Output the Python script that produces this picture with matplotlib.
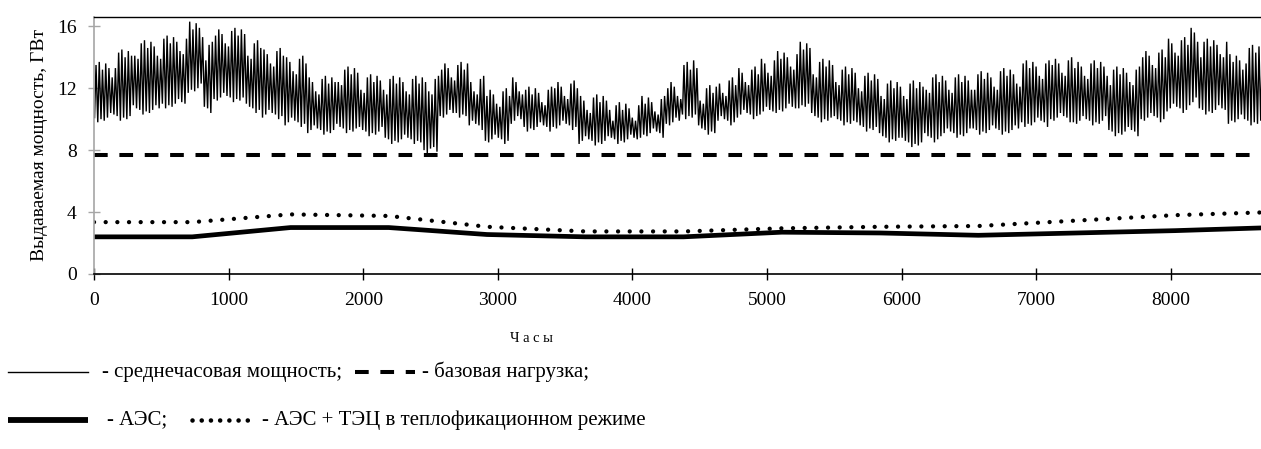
import numpy as np
import matplotlib
matplotlib.use("Agg")
import matplotlib.pyplot as plt
from matplotlib.lines import Line2D

plt.rcParams['font.family'] = ['Liberation Serif', 'DejaVu Serif']

# ---------------- data ----------------
# daily maximum of the hourly power, GW (one value per day)
daily_max = [
    13.5, 13.7, 13.2, 13.6, 13.3, 12.7, 13.3,
    14.3, 14.5, 14.0, 14.4, 14.1, 14.1, 13.9,
    14.9, 15.1, 14.6, 15.0, 14.7, 14.1, 13.9,
    15.2, 15.4, 14.9, 15.3, 15.0, 14.4, 14.2,
    15.2, 16.3, 15.8, 16.2, 15.9, 15.3, 13.8,
    14.8, 15.0, 15.4, 15.8, 15.5, 14.9, 14.7,
    15.7, 15.9, 15.4, 15.8, 15.5, 14.1, 13.9,
    14.9, 15.1, 14.6, 14.5, 14.2, 13.6, 13.4,
    14.4, 14.6, 14.1, 14.0, 13.7, 13.1, 12.9,
    13.9, 14.1, 13.6, 12.7, 12.4, 11.8, 11.6,
    12.6, 12.8, 12.3, 12.7, 12.4, 12.4, 12.2,
    13.2, 13.4, 12.9, 13.3, 13.0, 11.9, 11.7,
    12.7, 12.9, 12.4, 12.8, 12.5, 11.9, 11.6,
    12.6, 12.8, 12.3, 12.7, 12.4, 11.8, 11.6,
    12.6, 12.8, 12.3, 12.7, 12.4, 11.8, 11.6,
    12.6, 12.8, 13.2, 13.6, 13.3, 12.7, 12.5,
    13.5, 13.7, 13.2, 13.6, 12.4, 11.8, 11.6,
    12.6, 12.8, 11.5, 11.9, 11.6, 11.0, 10.8,
    11.8, 12.0, 11.5, 12.7, 12.4, 11.8, 11.6,
    11.9, 12.1, 11.6, 12.0, 11.7, 11.1, 10.9,
    11.9, 12.1, 12.0, 12.4, 12.1, 11.5, 11.3,
    12.3, 12.5, 12.0, 11.5, 11.2, 10.6, 10.4,
    11.4, 11.6, 11.1, 11.5, 11.2, 10.6, 9.9,
    10.9, 11.1, 10.6, 11.0, 10.7, 10.1, 9.9,
    10.9, 11.5, 11.0, 11.4, 11.1, 10.5, 10.3,
    11.3, 11.5, 12.0, 12.4, 12.1, 11.5, 11.3,
    13.5, 13.7, 13.2, 13.8, 13.3, 11.2, 11.0,
    12.0, 12.2, 11.7, 12.1, 12.3, 11.7, 11.5,
    12.5, 12.7, 12.2, 13.3, 13.0, 12.4, 12.2,
    13.2, 13.4, 12.9, 13.9, 13.6, 13.0, 12.8,
    13.8, 14.4, 13.9, 14.3, 14.0, 13.4, 13.2,
    14.2, 15.0, 14.5, 14.9, 14.6, 12.9, 12.7,
    13.7, 13.9, 13.4, 13.8, 13.5, 12.4, 12.2,
    13.2, 13.4, 12.9, 13.3, 13.0, 12.0, 11.8,
    12.8, 13.0, 12.5, 12.9, 12.6, 11.5, 11.3,
    12.3, 12.5, 12.0, 12.4, 12.1, 11.5, 11.3,
    12.3, 12.5, 12.0, 12.4, 12.1, 11.9, 11.7,
    12.7, 12.9, 12.4, 12.8, 12.5, 11.9, 11.7,
    12.7, 12.9, 12.4, 12.8, 12.5, 11.9, 11.9,
    12.9, 13.1, 12.6, 13.0, 12.7, 12.1, 11.9,
    13.1, 13.3, 12.8, 13.2, 12.9, 12.3, 12.1,
    13.6, 13.8, 13.3, 13.7, 13.4, 12.8, 12.6,
    13.6, 13.8, 13.5, 13.9, 13.6, 13.0, 12.8,
    13.8, 14.0, 13.3, 13.7, 13.4, 12.8, 12.6,
    13.6, 13.8, 13.3, 13.7, 13.4, 12.8, 12.2,
    13.2, 13.4, 12.9, 13.3, 13.0, 12.4, 12.2,
    13.2, 13.4, 14.0, 14.4, 14.1, 13.5, 13.3,
    14.3, 14.5, 14.0, 15.2, 14.9, 14.3, 14.1,
    15.1, 15.3, 14.8, 15.9, 15.6, 15.0, 14.0,
    15.0, 15.2, 14.7, 15.1, 14.8, 14.2, 14.0,
    15.0, 14.2, 13.7, 14.1, 13.8, 13.2, 13.6,
    14.6, 14.8, 14.3, 14.7, 14.4, 13.8, 13.6,
]
# daily minimum of the hourly power, GW
daily_min = [
    10.1, 9.8, 10.0, 9.9, 10.1, 10.4, 10.3,
    10.2, 9.9, 10.1, 10.0, 10.2, 10.9, 10.7,
    10.6, 10.3, 10.5, 10.4, 10.6, 10.9, 10.7,
    11.0, 10.7, 10.9, 10.8, 11.0, 11.3, 11.1,
    11.0, 11.7, 11.9, 11.8, 12.0, 12.3, 10.8,
    10.7, 10.4, 11.3, 11.2, 11.4, 11.7, 11.5,
    11.4, 11.1, 11.3, 11.2, 11.4, 11.0, 10.8,
    10.7, 10.4, 10.6, 10.1, 10.3, 10.6, 10.4,
    10.3, 10.0, 10.2, 9.6, 9.8, 10.1, 9.9,
    9.8, 9.5, 9.7, 9.1, 9.3, 9.6, 9.4,
    9.3, 9.0, 9.2, 9.1, 9.3, 9.7, 9.5,
    9.4, 9.1, 9.3, 9.2, 9.4, 9.5, 9.3,
    9.2, 8.9, 9.1, 9.0, 9.2, 9.5, 8.8,
    8.7, 8.4, 8.6, 8.5, 8.7, 9.0, 8.8,
    8.7, 8.4, 8.6, 8.5, 8.0, 7.8, 8.1,
    8.2, 7.9, 10.2, 10.1, 10.3, 10.6, 10.4,
    10.4, 10.1, 10.3, 10.2, 9.6, 9.9, 9.7,
    9.6, 9.3, 8.6, 8.5, 8.7, 9.0, 8.8,
    8.7, 8.4, 8.6, 9.7, 9.9, 10.2, 10.0,
    9.5, 9.2, 9.4, 9.3, 9.5, 9.8, 9.6,
    9.5, 9.2, 9.5, 9.4, 9.6, 9.9, 9.7,
    9.6, 9.3, 9.5, 8.4, 8.6, 8.9, 8.7,
    8.6, 8.3, 8.5, 8.4, 8.6, 8.9, 8.8,
    8.7, 8.4, 8.6, 8.5, 8.7, 9.0, 8.8,
    8.7, 8.8, 9.0, 8.9, 9.1, 9.4, 9.2,
    9.1, 8.8, 9.7, 9.6, 9.8, 10.1, 9.9,
    10.3, 10.0, 10.2, 10.1, 10.3, 9.6, 9.4,
    9.3, 9.0, 9.2, 9.1, 9.9, 10.2, 10.0,
    9.9, 9.6, 9.8, 10.1, 10.3, 10.6, 10.4,
    10.3, 10.0, 10.2, 10.3, 10.5, 10.8, 10.6,
    10.5, 10.4, 10.6, 10.5, 10.7, 11.0, 10.8,
    10.7, 10.7, 10.9, 10.8, 11.0, 10.4, 10.2,
    10.1, 9.8, 10.0, 9.9, 10.1, 10.2, 10.0,
    9.9, 9.6, 9.8, 9.7, 9.9, 9.8, 9.6,
    9.5, 9.2, 9.4, 9.3, 9.5, 9.1, 8.9,
    8.8, 8.5, 8.7, 8.6, 8.8, 8.8, 8.6,
    8.5, 8.2, 8.4, 8.3, 8.5, 9.1, 8.9,
    8.8, 8.5, 8.7, 8.9, 9.1, 9.4, 9.2,
    9.1, 8.8, 9.0, 8.9, 9.1, 9.4, 9.4,
    9.3, 9.0, 9.2, 9.1, 9.3, 9.6, 9.4,
    9.3, 9.0, 9.2, 9.1, 9.3, 9.6, 9.4,
    9.8, 9.5, 9.7, 9.6, 9.8, 10.1, 9.9,
    9.8, 9.5, 10.0, 9.9, 10.1, 10.4, 10.2,
    10.1, 9.8, 9.8, 9.7, 9.9, 10.2, 10.0,
    9.9, 9.6, 9.8, 9.7, 9.9, 10.2, 9.3,
    9.2, 8.9, 9.1, 9.0, 9.2, 9.5, 9.3,
    9.2, 8.9, 10.0, 9.9, 10.1, 10.4, 10.2,
    10.1, 9.8, 10.0, 10.5, 10.7, 11.0, 10.8,
    10.7, 10.4, 10.6, 10.9, 11.1, 11.4, 10.7,
    10.6, 10.3, 10.5, 10.4, 10.6, 10.9, 10.7,
    10.6, 9.7, 9.9, 9.8, 10.0, 10.3, 10.0,
    9.9, 9.6, 9.8, 9.7, 9.9, 10.2, 10.0,
]

base_hours = [0, 8760]
base_load = [7.7, 7.7]

month_hours = [0, 730, 1460, 2190, 2920, 3650, 4380, 5110, 5840, 6570, 7300, 8030, 8760]
aes = [2.4, 2.4, 3.0, 3.0, 2.55, 2.4, 2.4, 2.7, 2.65, 2.5, 2.65, 2.8, 3.0]
aes_tec = [3.35, 3.35, 3.85, 3.75, 3.05, 2.75, 2.75, 2.95, 3.05, 3.1, 3.45, 3.8, 4.0]

y_ticks = [0, 4, 8, 12, 16]
x_ticks = [0, 1000, 2000, 3000, 4000, 5000, 6000, 7000, 8000]

legend_1 = "- среднечасовая мощность;"
legend_2 = "- базовая нагрузка;"
legend_3 = "- АЭС;"
legend_4 = "- АЭС + ТЭЦ в теплофикационном режиме"
x_label = "Ч а с ы"
y_label = "Выдаваемая мощность, ГВт"

# ---------------- figure ----------------
W, H = 1261, 449
fig = plt.figure(figsize=(W / 100, H / 100), dpi=100)
ax = fig.add_axes([94 / W, 1 - 274 / H, (W - 94) / W, (274 - 17) / H])

# hourly series: each day drawn as its minimum (night) and maximum (day) hour
days = np.arange(len(daily_max))
hx = np.empty(2 * len(days))
hy = np.empty(2 * len(days))
hx[0::2] = days * 24 + 4
hx[1::2] = days * 24 + 15
hy[0::2] = daily_min
hy[1::2] = daily_max
ax.plot(hx, hy, color='black', lw=1.0, solid_joinstyle='miter')

ax.plot(base_hours, base_load, color='black', lw=2.9, dashes=(3.4, 2.9))
ax.plot(month_hours, aes, color='black', lw=3.4, solid_capstyle='butt')
ax.plot(month_hours, aes_tec, color='black', lw=3.1,
        linestyle=(0, (0.01, 2.7)), dash_capstyle='round')

ax.set_xlim(0, 8670)
ax.set_ylim(0, 16.6)
ax.set_xticks(x_ticks)
ax.set_yticks(y_ticks)
ax.tick_params(axis='x', direction='inout', length=8, width=1, color='black',
               labelsize=14, pad=9)
ax.tick_params(axis='y', direction='inout', length=9, width=1, color='#a6a6a6',
               labelsize=14, pad=8)
ax.spines['left'].set_color('#a6a6a6')
ax.spines['left'].set_linewidth(1.2)
ax.spines['bottom'].set_linewidth(1.2)
ax.spines['top'].set_linewidth(1.0)
ax.spines['right'].set_visible(False)

fig.text(40 / W, 1 - 145 / H, y_label, rotation=90, ha='center', va='center',
         fontsize=14)
fig.text(531 / W, 1 - 338 / H, x_label, ha='center', va='center', fontsize=10.5)

# custom legend drawn in figure coordinates
def fig_line(x0, x1, y, **kw):
    fig.add_artist(Line2D([x0 / W, x1 / W], [1 - y / H, 1 - y / H],
                          transform=fig.transFigure, color='black', **kw))

row1, row2 = 372, 420
fig_line(8, 88, row1, lw=1.0)
fig.text(102 / W, 1 - row1 / H, legend_1, ha='left', va='center', fontsize=15)
fig_line(355, 415, row1, lw=2.9, dashes=(3.4, 2.9))
fig.text(422 / W, 1 - row1 / H, legend_2, ha='left', va='center', fontsize=15)
fig_line(8, 88, row2, lw=4.2, solid_capstyle='butt')
fig.text(107 / W, 1 - row2 / H, legend_3, ha='left', va='center', fontsize=15)
fig_line(192, 254, row2, lw=3.3, linestyle=(0, (0.01, 2.0)), dash_capstyle='round')
fig.text(262 / W, 1 - row2 / H, legend_4, ha='left', va='center', fontsize=15)

fig.savefig("out.png", dpi=100)
